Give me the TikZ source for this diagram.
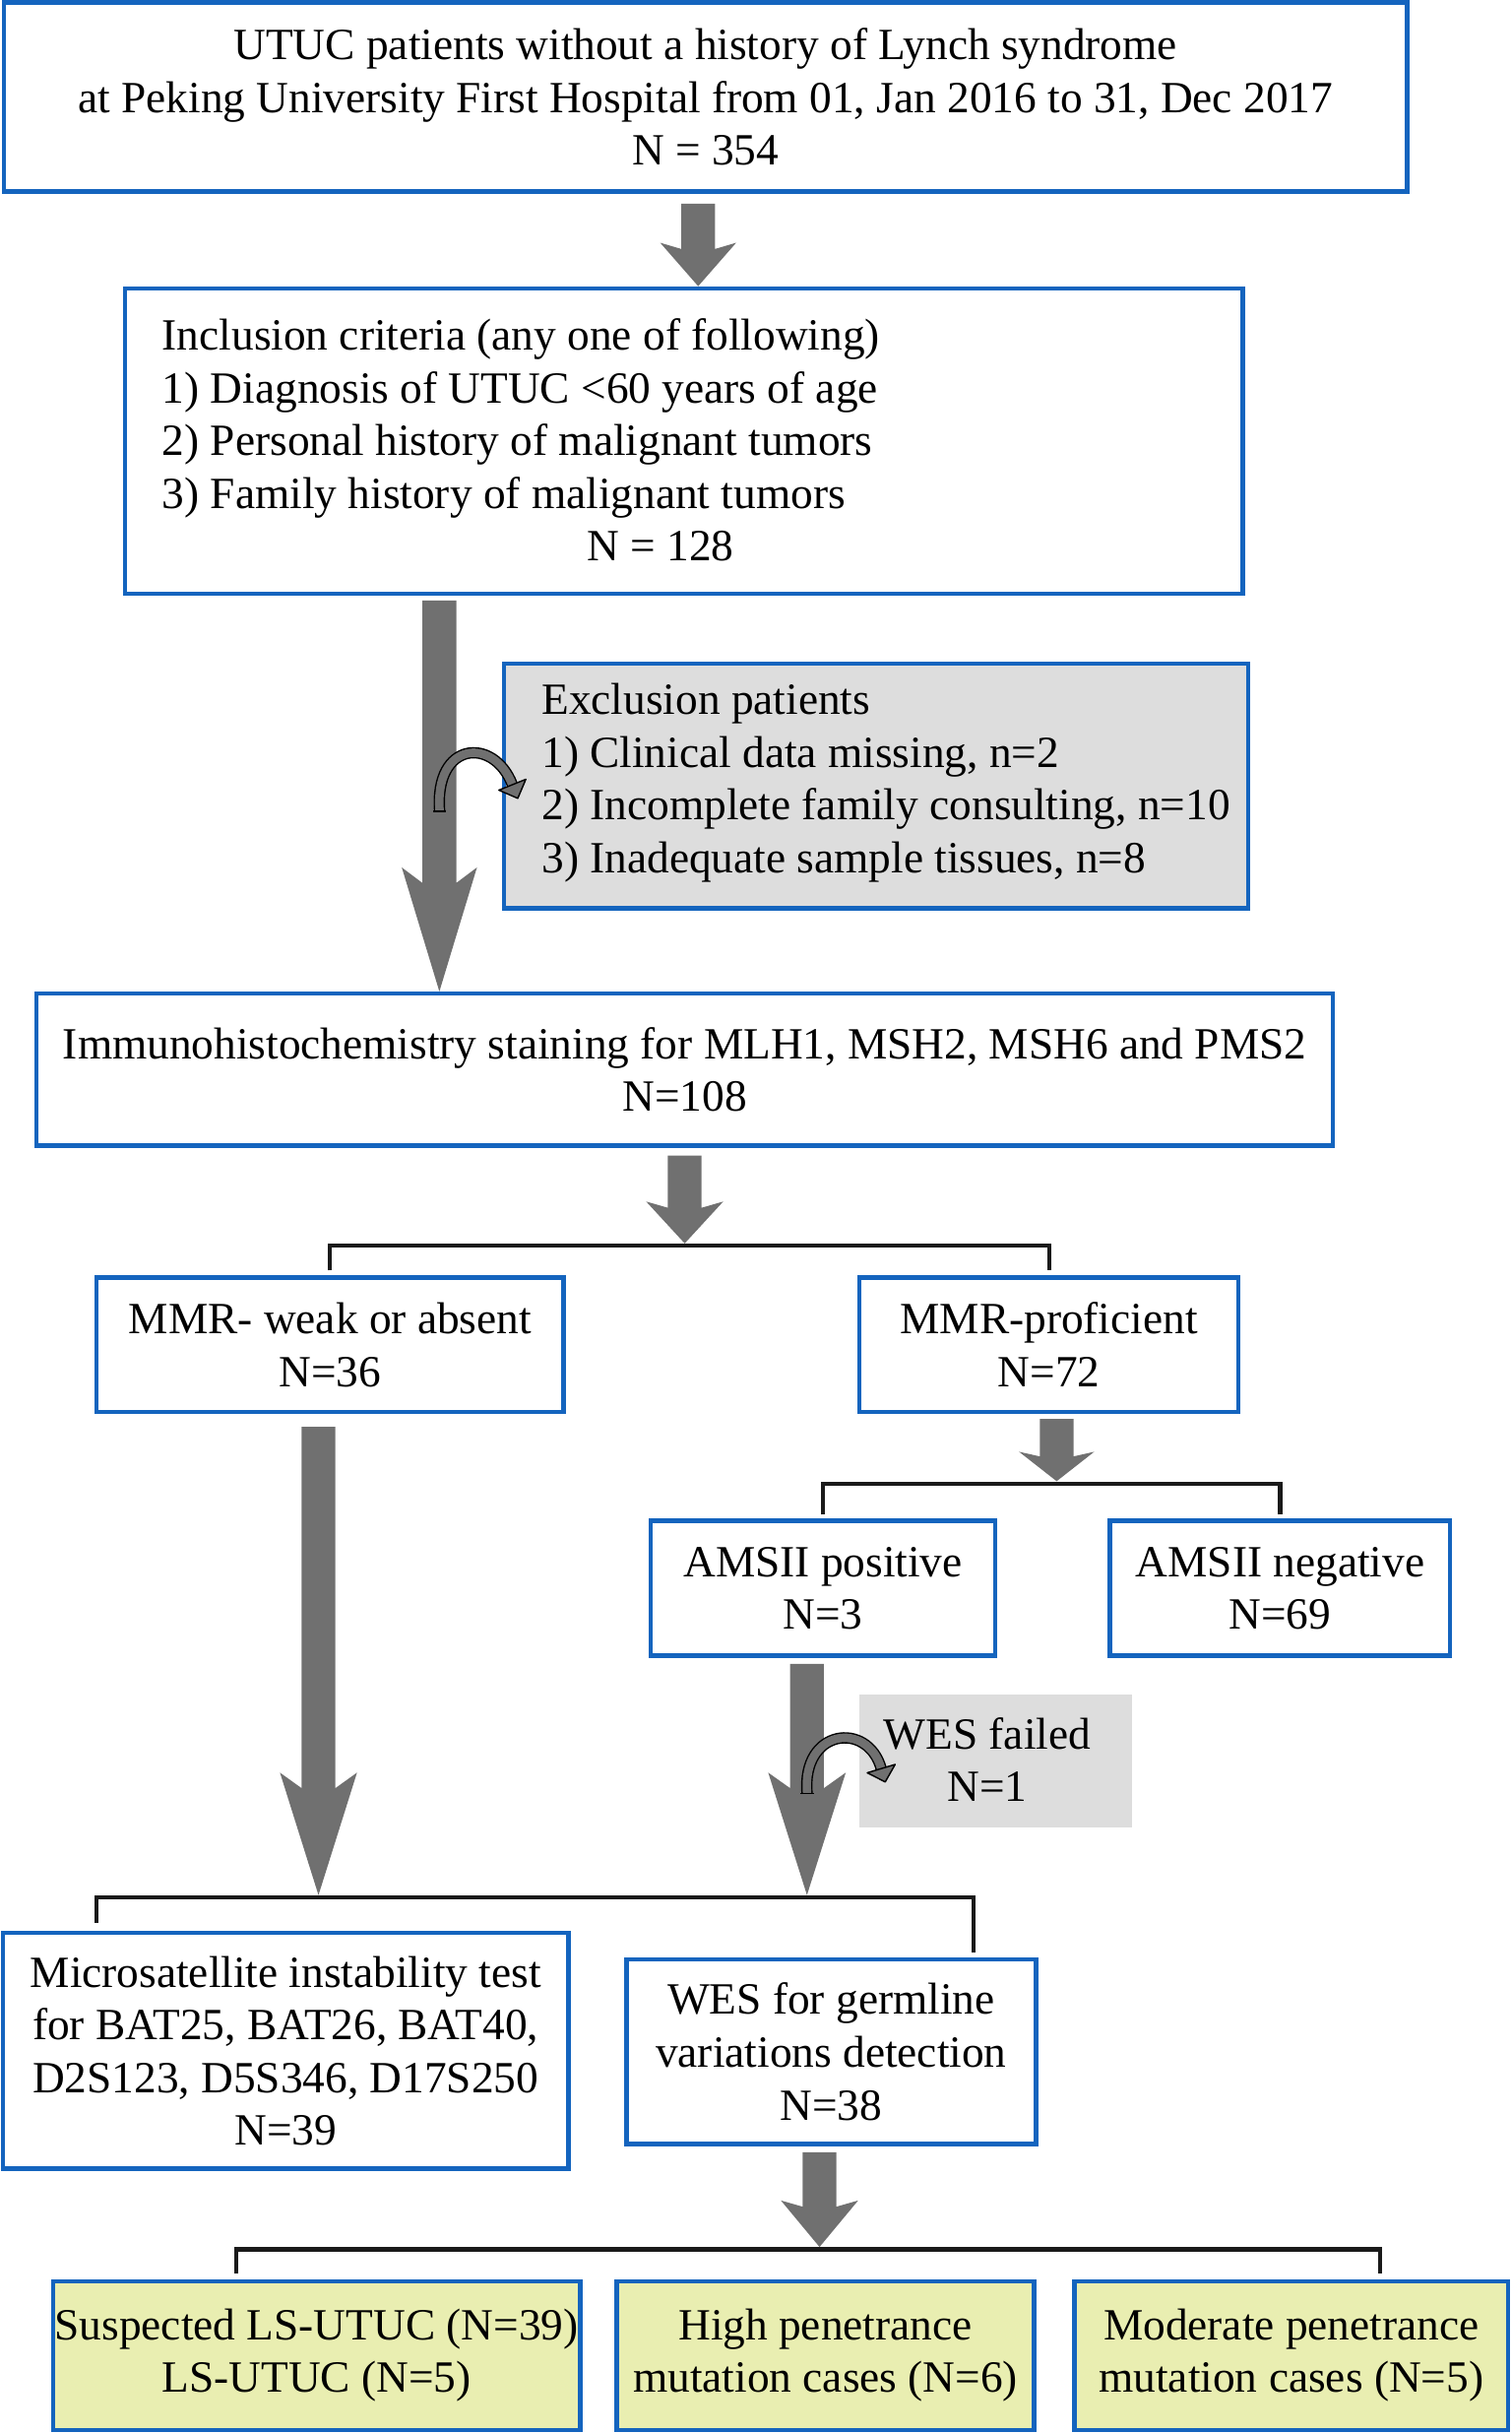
\documentclass[tikz,border=0pt]{standalone}
\usepackage{fontspec}
\setmainfont{Liberation Serif}
\usetikzlibrary{calc}
\definecolor{boxblue}{RGB}{20,100,190}
\definecolor{arrowgray}{RGB}{112,112,112}
\definecolor{exclgray}{RGB}{221,221,221}
\definecolor{resyellow}{RGB}{233,238,177}
\definecolor{brkblack}{RGB}{26,26,26}
\begin{document}
\begin{tikzpicture}[x=1pt,y=-1pt,
  fnt/.style={font=\fontsize{28.8}{34}\selectfont},
  box/.style={draw=boxblue, line width=2.8pt, inner sep=0pt, align=center, fnt},
  sz/.style 2 args={minimum width=#1pt, minimum height=#2pt},
  txt/.style={inner sep=0pt, fnt},
  brk/.style={draw=brkblack, line width=2.6pt},
  blockarrow/.style n args={3}{fill=arrowgray, draw=none,
    to path={let \p1=(\tikztostart), \p2=(\tikztotarget) in
      (\x1-10.9pt,\y1) -- (\x1-10.9pt,\y2+#2-#3) -- (\x1-#1/2,\y2+#2) -- (\x1,\y2)
      -- (\x1+#1/2,\y2+#2) -- (\x1+10.9pt,\y2+#2-#3) -- (\x1+10.9pt,\y1) -- cycle}},
  curvband/.style={draw=black, line width=0.9pt, double=arrowgray, double distance=5.5pt},
  curvhead/.style={draw=black, line width=0.9pt, fill=arrowgray, line join=round},
  curvcap/.style={draw=black, line width=0.9pt}
]
\useasboundingbox (0,0) rectangle (975,1569.5);

% boxes
\node[box, sz={905.5}{121.8}] (top) at (455.25,62.6)
  {UTUC patients without a history of Lynch syndrome\\at Peking University First Hospital from 01, Jan 2016 to 31, Dec 2017\\N = 354};
\node[box, sz={721.2}{197}] (inc) at (441.4,284.5) {};
\node[txt, anchor=west, align=left] (inctxt) at (104.5,284)
  {Inclusion criteria (any one of following)\\1) Diagnosis of UTUC <60 years of age\\2) Personal history of malignant tumors\\3) Family history of malignant tumors\\\hspace*{274.2pt}N = 128};
\node[box, fill=exclgray, sz={480}{158}] (exc) at (565.2,507) {};
\node[txt, anchor=west, align=left] (exctxt) at (349.4,505)
  {Exclusion patients\\1) Clinical data missing, n=2\\2) Incomplete family consulting, n=10\\3) Inadequate sample tissues, n=8};
\node[box, sz={836.4}{98}] (imm) at (441.8,690)
  {Immunohistochemistry staining for MLH1, MSH2, MSH6 and PMS2\\N=108};
\node[box, sz={301.5}{87}] (mmrw) at (213,867.5) {MMR- weak or absent\\N=36};
\node[box, sz={244.4}{87}] (mmrp) at (676.8,867.5) {MMR-proficient\\N=72};
\node[box, sz={222.6}{87}] (amsp) at (531,1024.5) {AMSII positive\\N=3};
\node[box, sz={219.5}{87}] (amsn) at (826,1024.5) {AMSII negative\\N=69};
\node[fill=exclgray, draw=none, inner sep=0pt, sz={175.7}{86}] (wesf) at (642.5,1136) {};
\node[txt, align=center] (wesftxt) at (637,1135) {WES failed\\N=1};
\node[box, sz={364.9}{152}] (msi) at (184.3,1323)
  {Microsatellite instability test\\for BAT25, BAT26, BAT40,\\D2S123, D5S346, D17S250\\N=39};
\node[box, sz={264.2}{119}] (wes) at (536.3,1323.5)
  {WES for germline\\variations detection\\N=38};
\node[box, fill=resyellow, sz={340.1}{96}] (r1) at (204.25,1519.5)
  {Suspected LS-UTUC (N=39)\\LS-UTUC (N=5)};
\node[box, fill=resyellow, sz={269.2}{96}] (r2) at (532.6,1519.5)
  {High penetrance\\mutation cases (N=6)};
\node[box, fill=resyellow, sz={279.8}{96}] (r3) at (833.2,1519.5)
  {Moderate penetrance\\mutation cases (N=5)};

% coordinates
\coordinate (xa1) at (450.5,0);
\coordinate (xa2) at (283.5,0);
\coordinate (xa3) at (441.8,0);
\coordinate (xa4) at (205.5,0);
\coordinate (xa5) at (681.8,0);
\coordinate (xa6) at (520.7,0);
\coordinate (xa7) at (528.8,0);
\coordinate (br1) at (0,803.6);
\coordinate (br2) at (0,957);
\coordinate (b3l) at (62.2,1224);
\coordinate (b3r) at (628,1224);
\coordinate (b4l) at (152.3,1451);
\coordinate (b4r) at (890.4,1451);

% brackets
\draw[brk] ($(mmrw.north)+(0,-3)$) -- (mmrw.north |- br1) -- (mmrp.north |- br1) -- ($(mmrp.north)+(0,-3)$);
\draw[brk] ($(amsp.north)+(0,-2.5)$) -- (amsp.north |- br2) -- (amsn.north |- br2) -- ($(amsn.north)+(0,-2.5)$);
\draw[brk] ($(msi.north -| b3l)+(0,-5)$) -- (b3l) -- (b3r) -- ($(wes.north -| b3r)+(0,-3)$);
\draw[brk] ($(r1.north -| b4l)+(0,-3.5)$) -- (b4l) -- (b4r) -- ($(r3.north -| b4r)+(0,-3.5)$);

% block arrows
\path[blockarrow={49pt}{28pt}{4pt}] ($(top.south -| xa1)+(0,6.5)$) to (inc.north -| xa1);
\path[blockarrow={48.5pt}{80pt}{10pt}] ($(inc.south -| xa2)+(0,3)$) to (imm.north -| xa2);
\path[blockarrow={49.7pt}{27pt}{4pt}] ($(imm.south -| xa3)+(0,5)$) to ($(xa3 |- br1)+(0,-1.5)$);
\path[blockarrow={49.7pt}{79pt}{10pt}] ($(mmrw.south -| xa4)+(0,8)$) to ($(xa4 |- b3l)+(0,-1.5)$);
\path[blockarrow={48.5pt}{19pt}{3pt}] ($(mmrp.south -| xa5)+(0,3)$) to ($(xa5 |- br2)+(0,-1.5)$);
\path[blockarrow={50pt}{79pt}{10pt}] ($(amsp.south -| xa6)+(0,4)$) to ($(xa6 |- b3l)+(0,-1.5)$);
\path[blockarrow={49.8pt}{30pt}{4pt}] ($(wes.south -| xa7)+(0,4)$) to ($(xa7 |- b4l)+(0,-1.5)$);

% curved side arrows
\coordinate (c1s) at (283.7,523.4);
\coordinate (c1e) at (330.6,506.2);
\draw[curvband] (c1s) .. controls (280,478) and (318.6,475) .. (c1e);
\draw[curvcap] (279.5,523.4) -- (287.9,523.4);
\filldraw[curvhead] (339.3,502.7) -- (334.1,515.0) -- (321.9,509.7) -- cycle;
\coordinate (c2s) at (520.8,1157);
\coordinate (c2e) at (568.6,1140.9);
\draw[curvband] (c2s) .. controls (517,1115) and (560,1110) .. (c2e);
\draw[curvcap] (516.6,1157) -- (525,1157);
\filldraw[curvhead] (577.6,1138.2) -- (571.2,1149.5) -- (559.6,1143.6) -- cycle;
\end{tikzpicture}
\end{document}
